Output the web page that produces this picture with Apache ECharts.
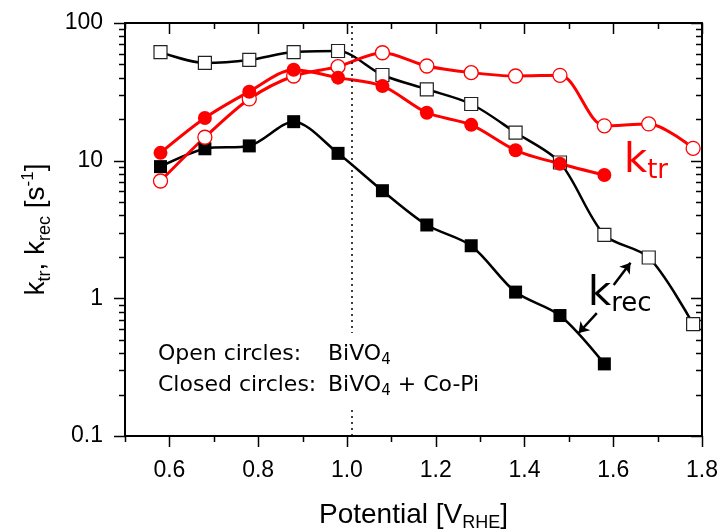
<!DOCTYPE html>
<html>
<head>
<meta charset="utf-8">
<script src="https://cdn.jsdelivr.net/npm/echarts@6/dist/echarts.min.js"></script>
<style>
  html, body { margin: 0; padding: 0; background: #fff; }
  #chart { width: 720px; height: 532px; }
</style>
</head>
<body>
<div id="chart"></div>
<script>
// potential values (V vs RHE)
const potentials = [0.58, 0.68, 0.78, 0.88, 0.98, 1.08, 1.18, 1.28, 1.38, 1.48, 1.58, 1.68, 1.78]

// rate constants [s^-1]
const krecBiVO4 = [61.5, 51.3, 53.9, 61.5, 62.6, 41.9, 33, 25.8, 16, 9.7, 2.89, 1.98, 0.65]
const krecCoPi = [9.05, 12.2, 12.8, 19.2, 11.3, 6.05, 3.41, 2.41, 1.11, 0.75, 0.334]
const ktrBiVO4 = [7.12, 14.8, 28.1, 41.2, 48.2, 60.8, 48.7, 43.6, 41.2, 41.7, 17.9, 18.5, 12.3]
const ktrCoPi = [11.4, 20.4, 31.7, 45.8, 40.1, 34.9, 22.3, 18.2, 11.9, 9.5, 7.87]

// axis ticks
const xMajorTicks = [0.6, 0.8, 1.0, 1.2, 1.4, 1.6, 1.8]
const xMinorTicks = [0.5, 0.7, 0.9, 1.1, 1.3, 1.5, 1.7]
const yMajorTicks = [0.1, 1, 10, 100]
const yMinorTicks = [0.2, 0.3, 0.4, 0.5, 0.6, 0.7, 0.8, 0.9, 2, 3, 4, 5, 6, 7, 8, 9, 20, 30, 40, 50, 60, 70, 80, 90]

// dotted guide line and the two k_rec arrows (data coordinates)
const guideX = 1.015
const arrowLines = [
  [[1.601, 1.25], [1.639, 1.81]],
  [[1.563, 0.78], [1.522, 0.56]]
]

const pair = arr => arr.map((v, i) => [potentials[i], v])

const tickData = [].concat(
  xMajorTicks.map(v => [v, 1, 0]),
  xMinorTicks.map(v => [v, 1, 1]),
  yMajorTicks.map(v => [1, v, 2]),
  yMinorTicks.map(v => [1, v, 3])
)

const chart = echarts.init(document.getElementById('chart'))

const axisFont = { fontFamily: 'Liberation Sans', color: '#000' }
const noteFont = 'DejaVu Sans'

// draws the Origin-style ticks on all four sides
function renderTick(params, api) {
  const cs = params.coordSys
  const kind = api.value(2)
  const p = api.coord([api.value(0), api.value(1)])
  const style = { stroke: '#000', lineWidth: 1.5 }
  const lines = []
  if (kind < 2) {
    const len = kind === 0 ? 11 : 6
    const x = Math.round(p[0]) + 0.5
    lines.push({ type: 'line', shape: { x1: x, y1: cs.y + cs.height, x2: x, y2: cs.y + cs.height + len }, style })
    lines.push({ type: 'line', shape: { x1: x, y1: cs.y, x2: x, y2: cs.y + len }, style })
  } else {
    const len = kind === 2 ? 11 : 6
    const y = Math.round(p[1]) + 0.5
    lines.push({ type: 'line', shape: { x1: cs.x - len, y1: y, x2: cs.x, y2: y }, style })
    lines.push({ type: 'line', shape: { x1: cs.x + cs.width - len, y1: y, x2: cs.x + cs.width, y2: y }, style })
  }
  return { type: 'group', children: lines }
}

const option = {
  animation: false,
  backgroundColor: '#fff',
  grid: { left: 125, right: 18, top: 23, bottom: 96, outerBoundsMode: 'none', containLabel: false },
  xAxis: [
    {
      type: 'value',
      position: 'bottom',
      min: 0.5,
      max: 1.8,
      interval: 0.1,
      axisLine: { lineStyle: { color: '#000', width: 2 } },
      axisTick: { show: false },
      splitLine: { show: false },
      axisLabel: {
        ...axisFont,
        fontSize: 23,
        margin: 23,
        formatter: v => (Math.round(v * 10) % 2 === 0 ? v.toFixed(1) : '')
      },
      name: '{a|Potential [V}{s|RHE}{a|]}',
      nameLocation: 'middle',
      nameGap: 62,
      nameTextStyle: {
        rich: {
          a: { ...axisFont, fontSize: 28, lineHeight: 34 },
          s: { ...axisFont, fontSize: 18, lineHeight: 14, verticalAlign: 'bottom' }
        }
      }
    },
    {
      type: 'value',
      position: 'top',
      min: 0.5,
      max: 1.8,
      interval: 0.1,
      axisLine: { lineStyle: { color: '#000', width: 2 } },
      axisTick: { show: false },
      axisLabel: { show: false },
      splitLine: { show: false }
    }
  ],
  yAxis: [
    {
      type: 'log',
      logBase: 10,
      position: 'left',
      min: 0.1,
      max: 100,
      axisLine: { lineStyle: { color: '#000', width: 2 } },
      axisTick: { show: false },
      splitLine: { show: false },
      minorSplitLine: { show: false },
      axisLabel: { ...axisFont, fontSize: 23, margin: 22, formatter: v => String(v) },
      name: '{a|k}{s|tr}{a|, k}{s|rec}{a| [s}{p|-1}{a|]}',
      nameLocation: 'middle',
      nameGap: 64,
      nameTextStyle: {
        rich: {
          a: { ...axisFont, fontSize: 28, lineHeight: 34 },
          s: { ...axisFont, fontSize: 18, lineHeight: 14, verticalAlign: 'bottom' },
          p: { ...axisFont, fontSize: 17, lineHeight: 12, verticalAlign: 'top' }
        }
      }
    },
    {
      type: 'log',
      logBase: 10,
      position: 'right',
      min: 0.1,
      max: 100,
      axisLine: { lineStyle: { color: '#000', width: 2 } },
      axisTick: { show: false },
      axisLabel: { show: false },
      splitLine: { show: false }
    }
  ],
  series: [
    {
      name: 'ticks',
      type: 'custom',
      renderItem: renderTick,
      data: tickData,
      encode: { x: 0, y: 1 },
      clip: false,
      silent: true,
      z: 1
    },
    {
      name: 'krec BiVO4',
      type: 'line',
      data: pair(krecBiVO4),
      smooth: 0.3,
      symbol: 'rect',
      symbolSize: 13,
      itemStyle: { color: '#fff', borderColor: '#222', borderWidth: 1.2 },
      lineStyle: { color: '#000', width: 2.5 },
      markLine: {
        silent: true,
        symbol: 'none',
        label: { show: false },
        lineStyle: { color: '#000', width: 1.5, type: [2, 4] },
        data: [{ xAxis: guideX }]
      }
    },
    {
      name: 'krec BiVO4 + Co-Pi',
      type: 'line',
      data: pair(krecCoPi),
      smooth: 0.3,
      symbol: 'rect',
      symbolSize: 13,
      itemStyle: { color: '#000' },
      lineStyle: { color: '#000', width: 2.5 },
      markLine: {
        silent: true,
        symbol: ['none', 'arrow'],
        symbolSize: 10,
        label: { show: false },
        lineStyle: { color: '#000', width: 2.5, type: 'solid' },
        data: arrowLines.map(l => [{ coord: l[0] }, { coord: l[1] }])
      }
    },
    {
      name: 'ktr BiVO4',
      type: 'line',
      data: pair(ktrBiVO4),
      smooth: 0.3,
      symbol: 'circle',
      symbolSize: 14,
      itemStyle: { color: '#fff', borderColor: '#ff0000', borderWidth: 1.3 },
      lineStyle: { color: '#ff0000', width: 3 }
    },
    {
      name: 'ktr BiVO4 + Co-Pi',
      type: 'line',
      data: pair(ktrCoPi),
      smooth: 0.3,
      symbol: 'circle',
      symbolSize: 14,
      itemStyle: { color: '#ff0000' },
      lineStyle: { color: '#ff0000', width: 3 }
    }
  ],
  graphic: [
    {
      type: 'rect',
      z: 10,
      silent: true,
      shape: { x: 150, y: 333, width: 345, height: 74 },
      style: { fill: '#fff' }
    },
    {
      type: 'text',
      z: 11,
      silent: true,
      x: 158,
      y: 354,
      style: {
        text: '{a|Open circles:}{b|BiVO}{s|4}',
        verticalAlign: 'middle',
        align: 'left',
        rich: {
          a: { fontFamily: noteFont, fontSize: 22, lineHeight: 28, width: 170, fill: '#000' },
          b: { fontFamily: noteFont, fontSize: 22, lineHeight: 28, fill: '#000' },
          s: { fontFamily: noteFont, fontSize: 15, lineHeight: 12, verticalAlign: 'bottom', fill: '#000' }
        }
      }
    },
    {
      type: 'text',
      z: 11,
      silent: true,
      x: 158,
      y: 385,
      style: {
        text: '{a|Closed circles:}{b|BiVO}{s|4}{b| + Co-Pi}',
        verticalAlign: 'middle',
        align: 'left',
        rich: {
          a: { fontFamily: noteFont, fontSize: 22, lineHeight: 28, width: 170, fill: '#000' },
          b: { fontFamily: noteFont, fontSize: 22, lineHeight: 28, fill: '#000' },
          s: { fontFamily: noteFont, fontSize: 15, lineHeight: 12, verticalAlign: 'bottom', fill: '#000' }
        }
      }
    },
    {
      type: 'text',
      z: 11,
      silent: true,
      x: 624,
      y: 162,
      style: {
        text: '{k|k}{s|tr}',
        verticalAlign: 'middle',
        align: 'left',
        rich: {
          k: { fontFamily: noteFont, fontSize: 40, lineHeight: 44, fill: '#ff0000' },
          s: { fontFamily: noteFont, fontSize: 26, lineHeight: 18, verticalAlign: 'bottom', fill: '#ff0000' }
        }
      }
    },
    {
      type: 'text',
      z: 11,
      silent: true,
      x: 588,
      y: 295,
      style: {
        text: '{k|k}{s|rec}',
        verticalAlign: 'middle',
        align: 'left',
        rich: {
          k: { fontFamily: noteFont, fontSize: 40, lineHeight: 44, fill: '#000' },
          s: { fontFamily: noteFont, fontSize: 26, lineHeight: 18, verticalAlign: 'bottom', fill: '#000' }
        }
      }
    }
  ]
}

chart.setOption(option)
</script>
</body>
</html>
